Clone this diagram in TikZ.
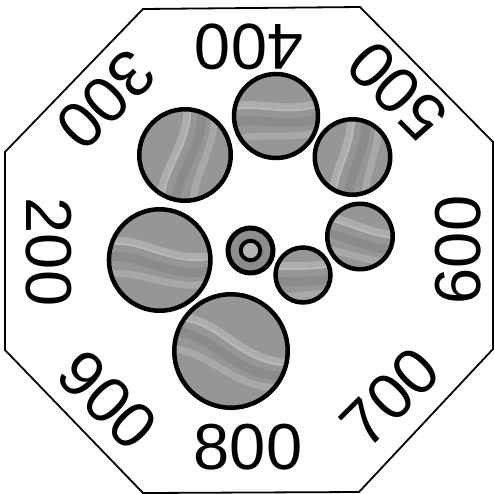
\documentclass[tikz,border=0pt]{standalone}
\usepackage{fontspec}
\setmainfont{Liberation Sans}
\definecolor{discgray}{RGB}{150,150,150}
\definecolor{ringgray}{RGB}{140,140,140}
\begin{document}
\begin{tikzpicture}[x=1pt,y=-1pt,
  disc/.style 2 args={circle, draw=black, line width=4.5pt, fill=discgray, inner sep=0pt, minimum size=#1,
    path picture={
      \begin{pgfscope}
        \pgftransformshift{\pgfpointanchor{path picture bounding box}{center}}%
        \pgftransformrotate{#2}%
        \draw[white, opacity=0.22, line width=6pt, line cap=round]
          (-60,-10) .. controls (-20,-26) and (12,6) .. (60,-16);
        \draw[white, opacity=0.32, line width=2pt, line cap=round]
          (-60,-6) .. controls (-20,-22) and (12,10) .. (60,-12);
        \draw[white, opacity=0.18, line width=7pt, line cap=round]
          (-60,24) .. controls (-18,8) and (22,34) .. (60,12);
        \draw[black, opacity=0.07, line width=9pt, line cap=round]
          (-60,6) .. controls (-20,-8) and (15,22) .. (60,0);
      \end{pgfscope}
    }},
  num/.style={font=\fontsize{65}{65}\selectfont, inner sep=0pt}]
\useasboundingbox (0,0) rectangle (494,493);
% octagon frame
\draw[line width=1.8pt, line join=miter]
  (143,9) -- (360,7) -- (493,142) -- (493,349) -- (359,492) -- (143,493) -- (5,350) -- (5,152) -- cycle;
% discs
\node[disc={91.5pt}{75}]   (c300) at (185,155) {};
\node[disc={84pt}{5}]      (c400) at (276,116) {};
\node[disc={75.5pt}{80}]   (c500) at (352.5,157) {};
\node[disc={65.5pt}{-10}]  (c600) at (360,236.5) {};
\node[disc={55pt}{10}]     (c700) at (303,275) {};
\node[disc={113.5pt}{-25}] (c800) at (231,351) {};
\node[disc={101.5pt}{-8}]  (c200) at (159.7,260) {};
% centre ring
\node[circle, draw=black, line width=5pt, fill=ringgray, inner sep=0pt, minimum size=45pt] (ring) at (250.5,250.5) {};
\node[circle, draw=black, line width=4pt, fill=discgray!70!white, inner sep=0pt, minimum size=19.5pt] (hub) at (250.5,250.5) {};
% labels
\node[num, rotate=180] (l400) at (249,47) {400};
\node[num, rotate=135] (l500) at (397,91) {500};
\node[num, rotate=90]  (l600) at (458,250) {600};
\node[num, rotate=45]  (l700) at (390,397) {700};
\node[num, rotate=0]   (l800) at (248,447) {800};
\node[num, rotate=-45] (l900) at (108,400) {900};
\node[num, rotate=-90] (l200) at (49,252) {200};
\node[num, rotate=-135](l300) at (106,100) {300};
\end{tikzpicture}
\end{document}
